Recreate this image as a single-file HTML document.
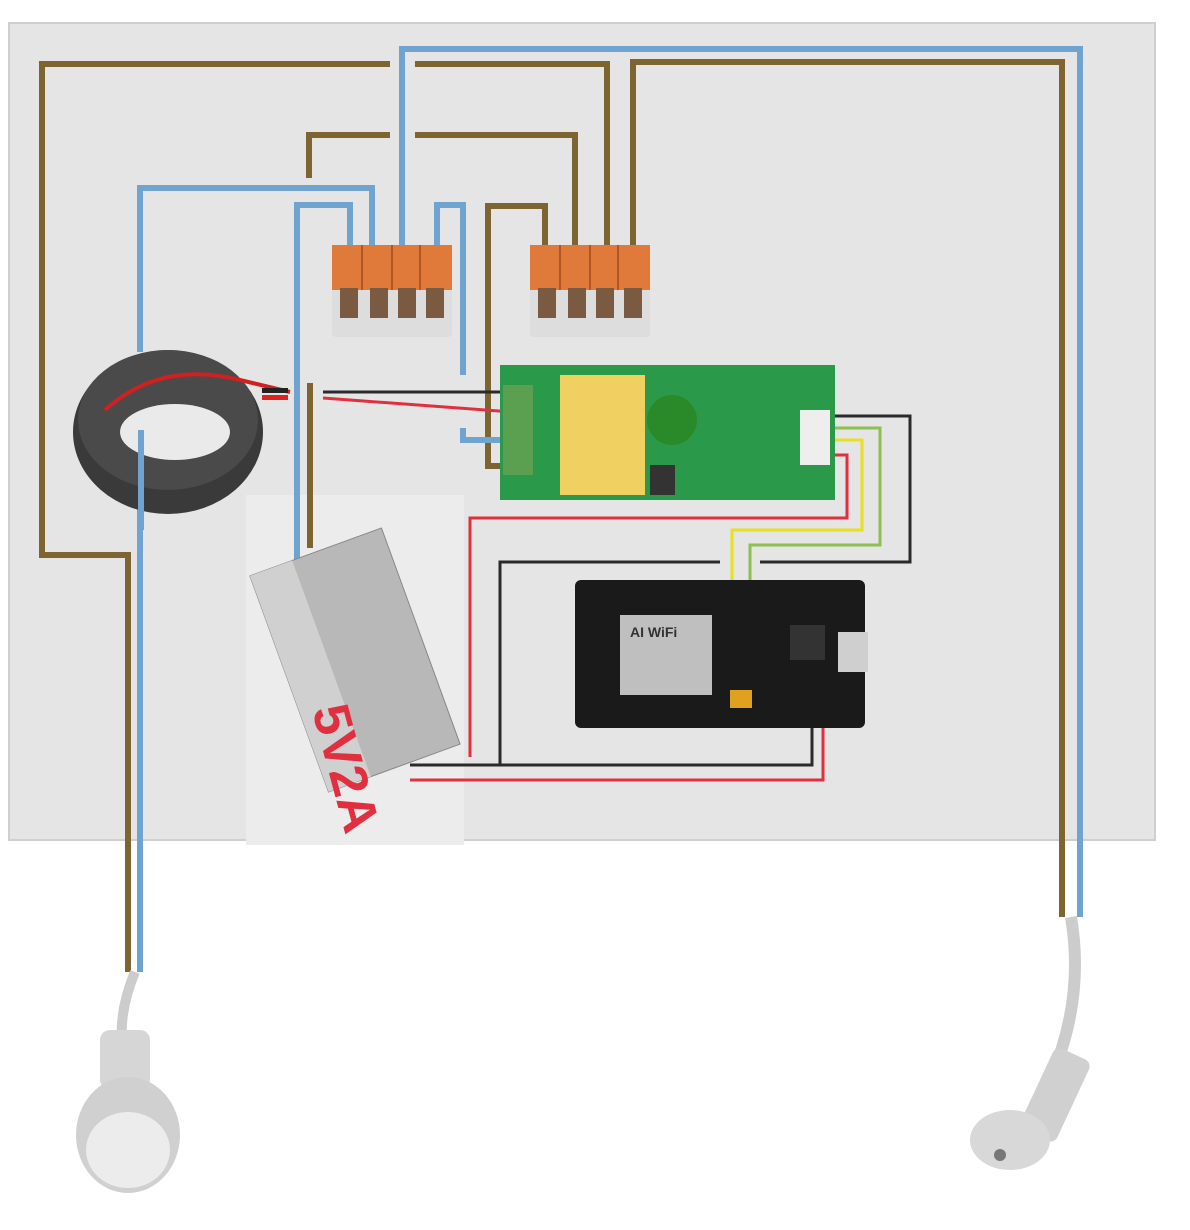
<!DOCTYPE html>
<html><head><meta charset="utf-8"><style>
html,body{margin:0;padding:0;background:#fff;width:1190px;height:1230px;overflow:hidden}
svg{display:block}
</style></head><body>
<svg width="1190" height="1230" viewBox="0 0 1190 1230" xmlns="http://www.w3.org/2000/svg" font-family="Liberation Sans, sans-serif">
<rect x="9" y="23" width="1146" height="817" fill="#e5e5e5" stroke="#cfcfcf" stroke-width="2"/>
<!-- PSU panel -->
<rect x="246" y="495" width="218" height="350" fill="#ececec"/>
<!-- Brown wires -->
<g fill="none" stroke="#7d6431" stroke-width="6">
<polyline points="390,64 42,64 42,555 128,555 128,972"/>
<polyline points="415,64 607,64 607,250"/>
<polyline points="633,250 633,62 1062,62 1062,917"/>
<polyline points="390,135 309,135 309,178"/>
<polyline points="415,135 575,135 575,250"/>
<polyline points="310,383 310,548"/>
<polyline points="545,250 545,206 488,206 488,466 512,466"/>
</g>
<!-- Blue wires -->
<g fill="none" stroke="#6fa3d0" stroke-width="6">
<polyline points="140,972 140,430"/>
<polyline points="140,352 140,188 372,188 372,250"/>
<polyline points="402,250 402,49 1080,49 1080,917"/>
<polyline points="350,250 350,205 297,205 297,562"/>
<polyline points="437,250 437,205 463,205 463,375"/>
<polyline points="463,428 463,440 512,440"/>
</g>
<!-- Coil -->
<ellipse cx="168" cy="432" rx="95" ry="82" fill="#3a3a3a"/>
<ellipse cx="168" cy="420" rx="90" ry="70" fill="#4a4a4a"/>
<ellipse cx="175" cy="432" rx="55" ry="28" fill="#eaeaea"/>
<path d="M105,410 Q160,360 240,380 L290,392" stroke="#d02020" stroke-width="4" fill="none"/>
<rect x="262" y="388" width="26" height="5" fill="#222"/>
<rect x="262" y="395" width="26" height="5" fill="#d22"/>
<rect x="138" y="430" width="6" height="100" fill="#6fa3d0"/>
<!-- PZEM cables -->
<g fill="none" stroke-width="3">
<polyline points="323,392 512,392" stroke="#2a2a2a"/>
<polyline points="323,398 512,412" stroke="#e03040"/>
<polyline points="835,416 910,416 910,562 760,562" stroke="#2a2a2a"/>
<polyline points="835,428 880,428 880,545 750,545 750,582" stroke="#8cc050"/>
<polyline points="835,440 862,440 862,530 732,530 732,582" stroke="#e8e020"/>
<polyline points="835,455 847,455 847,518 470,518 470,757" stroke="#e03040"/>
<polyline points="720,562 500,562 500,765" stroke="#2a2a2a"/>
<polyline points="410,765 812,765 812,725" stroke="#2a2a2a"/>
<polyline points="410,780 823,780 823,725" stroke="#e03040"/>
</g>
<!-- Wago blocks -->
<g>
<rect x="332" y="245" width="120" height="92" fill="#ddd" rx="4"/>
<rect x="332" y="245" width="120" height="45" fill="#e07a3a"/>
<rect x="530" y="245" width="120" height="92" fill="#ddd" rx="4"/>
<rect x="530" y="245" width="120" height="45" fill="#e07a3a"/>
<g fill="#7a5a40">
<rect x="340" y="288" width="18" height="30"/><rect x="370" y="288" width="18" height="30"/><rect x="398" y="288" width="18" height="30"/><rect x="426" y="288" width="18" height="30"/>
<rect x="538" y="288" width="18" height="30"/><rect x="568" y="288" width="18" height="30"/><rect x="596" y="288" width="18" height="30"/><rect x="624" y="288" width="18" height="30"/>
</g>
<g stroke="#a04a20" stroke-width="1.5"><line x1="362" y1="245" x2="362" y2="290"/><line x1="392" y1="245" x2="392" y2="290"/><line x1="420" y1="245" x2="420" y2="290"/><line x1="560" y1="245" x2="560" y2="290"/><line x1="590" y1="245" x2="590" y2="290"/><line x1="618" y1="245" x2="618" y2="290"/></g>
</g>
<!-- PZEM board -->
<rect x="500" y="365" width="335" height="135" fill="#2a9a4a"/>
<rect x="503" y="385" width="30" height="90" fill="#5aa050"/>
<rect x="560" y="375" width="85" height="120" fill="#f0d060"/>
<circle cx="672" cy="420" r="25" fill="#2a8a2a"/>
<rect x="650" y="465" width="25" height="30" fill="#333"/>
<rect x="800" y="410" width="30" height="55" fill="#eee"/>
<!-- ESP board -->
<rect x="575" y="580" width="290" height="148" fill="#1a1a1a" rx="6"/>
<rect x="620" y="615" width="92" height="80" fill="#bfbfbf"/>
<rect x="790" y="625" width="35" height="35" fill="#333"/>
<rect x="838" y="632" width="30" height="40" fill="#cfcfcf"/>
<rect x="730" y="690" width="22" height="18" fill="#e0a020"/>
<text x="630" y="637" font-size="14" fill="#333" font-weight="bold">AI WiFi</text>
<!-- PSU -->
<g transform="rotate(-20 355 660)">
<rect x="285" y="545" width="140" height="230" fill="#b8b8b8" stroke="#888"/>
<rect x="285" y="545" width="45" height="230" fill="#d0d0d0"/>
</g>
<text x="0" y="0" font-size="52" fill="#e03040" font-weight="bold" transform="translate(312,710) rotate(75)">5V2A</text>
<!-- Plugs -->
<path d="M135,972 Q115,1020 125,1060" stroke="#ccc" stroke-width="10" fill="none"/>
<rect x="100" y="1030" width="50" height="60" fill="#d6d6d6" rx="10"/>
<ellipse cx="128" cy="1135" rx="52" ry="58" fill="#d0d0d0"/>
<ellipse cx="128" cy="1150" rx="42" ry="38" fill="#ececec"/>
<path d="M1071,917 Q1085,1000 1050,1080" stroke="#ccc" stroke-width="12" fill="none"/>
<rect x="1035" y="1050" width="40" height="90" fill="#d0d0d0" rx="8" transform="rotate(25 1055 1095)"/>
<ellipse cx="1010" cy="1140" rx="40" ry="30" fill="#d8d8d8"/>
<circle cx="1000" cy="1155" r="6" fill="#777"/>
</svg>
</body></html>
